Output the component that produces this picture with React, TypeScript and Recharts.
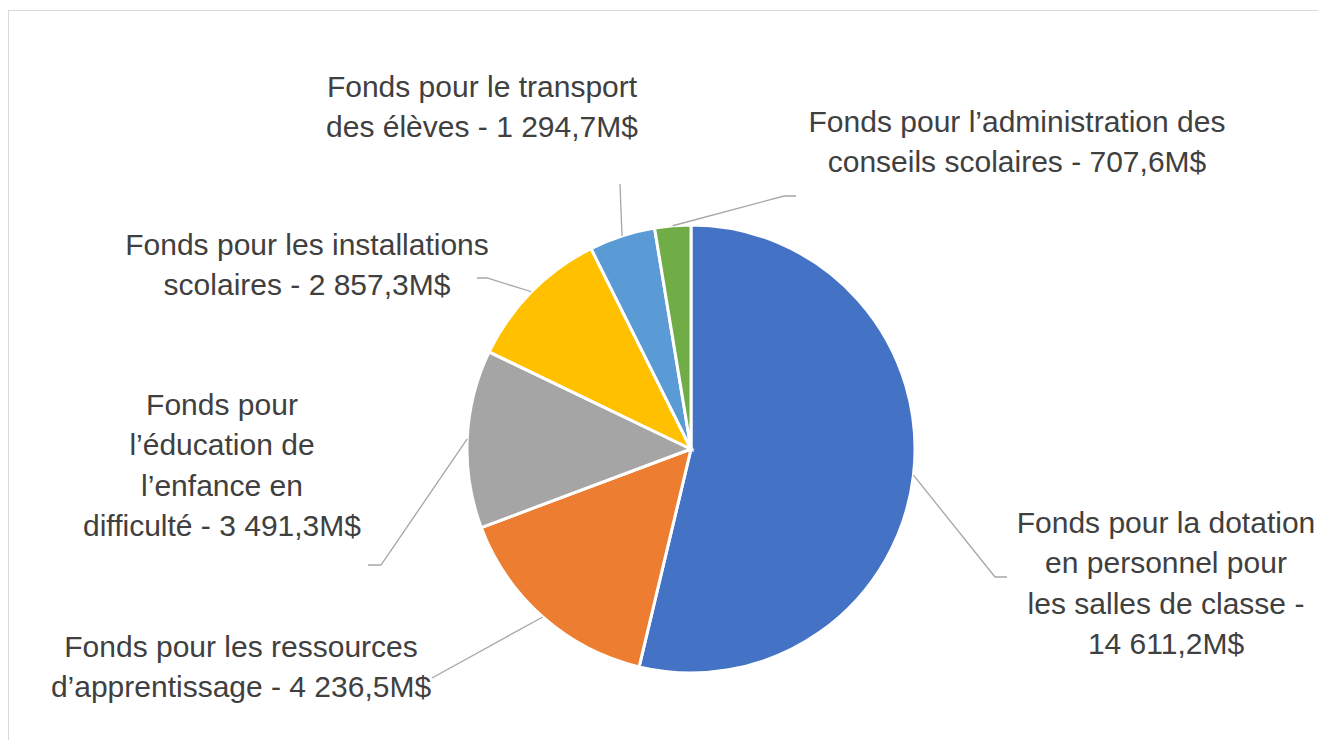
import React from 'react';
import { PieChart, Pie, Cell } from 'recharts';

const categories = [
  'Fonds pour la dotation en personnel pour les salles de classe',
  'Fonds pour les ressources d’apprentissage',
  'Fonds pour l’éducation de l’enfance en difficulté',
  'Fonds pour les installations scolaires',
  'Fonds pour le transport des élèves',
  'Fonds pour l’administration des conseils scolaires',
];
const values = [14611.2, 4236.5, 3491.3, 2857.3, 1294.7, 707.6];
const labelLines = [
  ['Fonds pour la dotation', 'en personnel pour', 'les salles de classe -', '14 611,2M$'],
  ['Fonds pour les ressources', 'd’apprentissage - 4 236,5M$'],
  ['Fonds pour', 'l’éducation de', 'l’enfance en', 'difficulté - 3 491,3M$'],
  ['Fonds pour les installations', 'scolaires - 2 857,3M$'],
  ['Fonds pour le transport', 'des élèves - 1 294,7M$'],
  ['Fonds pour l’administration des', 'conseils scolaires - 707,6M$'],
];
const colors = ['#4472c4', '#ed7d31', '#a5a5a5', '#ffc000', '#5b9bd5', '#70ad47'];

// label placement, offsets from the pie centre
const labelLayout = [
  { tx: 475, ty: 84, path: [[304, 128], [316, 128]] },
  { tx: -450, ty: 208, path: [[-259, 229]] },
  { tx: -469, ty: -34, path: [[-310, 116], [-323, 116]] },
  { tx: -384, ty: -194, path: [[-204, -171], [-214, -171]] },
  { tx: -209, ty: -352, path: [[-71, -265]] },
  { tx: 326, ty: -317, path: [[93, -253], [105, -253]] },
];

const data = categories.map((name, i) => ({ name, value: values[i] }));
const RAD = Math.PI / 180;

const renderLabel = (props: any) => {
  const { cx, cy, midAngle, outerRadius, index } = props;
  const lay = labelLayout[index];
  const sx = cx + outerRadius * Math.cos(-midAngle * RAD);
  const sy = cy + outerRadius * Math.sin(-midAngle * RAD);
  const pts = [[sx, sy], ...lay.path.map(([dx, dy]) => [cx + dx, cy + dy])];
  return (
    <g key={`lbl-${index}`}>
      <polyline
        points={pts.map((p) => p.join(',')).join(' ')}
        fill="none"
        stroke="#a6a6a6"
        strokeWidth={1.3}
      />
      <text
        x={cx + lay.tx}
        y={cy + lay.ty}
        textAnchor="middle"
        fill="#404040"
        fontSize={30}
        fontFamily="'Liberation Sans', Arial, sans-serif"
      >
        {labelLines[index].map((line, j) => (
          <tspan key={j} x={cx + lay.tx} y={cy + lay.ty + j * 40.3}>
            {line}
          </tspan>
        ))}
      </text>
    </g>
  );
};

export default function App() {
  return (
    <div style={{ position: 'absolute', left: 0, top: 0, width: 1318, height: 740, background: '#fff', overflow: 'hidden' }}>
      <div
        style={{
          position: 'absolute',
          left: 8,
          top: 10,
          width: 1320,
          height: 760,
          borderLeft: '1.5px solid #d9d9d9',
          borderTop: '1.5px solid #d9d9d9',
        }}
      />
      <div style={{ position: 'absolute', left: 0, top: 0 }}>
        <PieChart width={1318} height={740} margin={{ top: 0, right: 0, bottom: 0, left: 0 }}>
          <Pie
            data={data}
            dataKey="value"
            nameKey="name"
            cx={691}
            cy={449}
            outerRadius={224}
            startAngle={90}
            endAngle={-270}
            stroke="#ffffff"
            strokeWidth={3}
            label={renderLabel}
            labelLine={false}
            isAnimationActive={false}
          >
            {data.map((d, i) => (
              <Cell key={d.name} fill={colors[i]} />
            ))}
          </Pie>
        </PieChart>
      </div>
    </div>
  );
}
